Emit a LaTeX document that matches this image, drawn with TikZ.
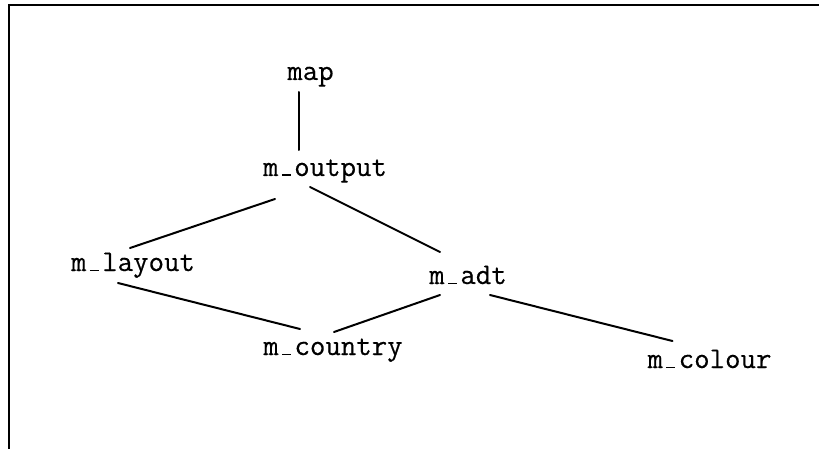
\documentclass[tikz,border=0pt]{standalone}
\usepackage{fontspec}
\setmonofont{Latin Modern Mono}[FakeBold=0.4]
\newcommand\usc{\makebox[0.525em][c]{\rule{0.3em}{0.05em}}}
\tikzset{
  lbl/.style={font=\fontsize{30}{32}\ttfamily, anchor=base, inner sep=0pt},
  edge/.style={line width=2pt, line cap=round},
  frame/.style={line width=2pt}
}
\begin{document}
\begin{tikzpicture}[x=1pt,y=-1pt]
\useasboundingbox (0,0) rectangle (819,449);
\coordinate (fbl) at (9,449);
\coordinate (ftl) at (9,5.5);
\coordinate (ftr) at (819,5.5);
\draw[frame] (fbl) -- (ftl) -- (ftr);

\node[lbl] (map) at (310.5,80) {map};
\node[lbl] (out) at (325,176) {m\usc output};
\node[lbl] (lay) at (133,271) {m\usc layout};
\node[lbl] (adt) at (468,284) {m\usc adt};
\node[lbl] (cty) at (333,355) {m\usc country};
\node[lbl] (col) at (709.5,368) {m\usc colour};

\draw[edge] ([shift={(-11.5,12)}]map.base) -- ([shift={(-26,-26)}]out.base);
\draw[edge] ([shift={(-50,23)}]out.base) -- ([shift={(-3,-23)}]lay.base);
\draw[edge] ([shift={(-15,11)}]out.base) -- ([shift={(-28,-32)}]adt.base);
\draw[edge] ([shift={(-15,12)}]lay.base) -- ([shift={(-33,-26)}]cty.base);
\draw[edge] ([shift={(-28,11)}]adt.base) -- ([shift={(1,-23)}]cty.base);
\draw[edge] ([shift={(22,11)}]adt.base) -- ([shift={(-37,-27)}]col.base);
\end{tikzpicture}
\end{document}
